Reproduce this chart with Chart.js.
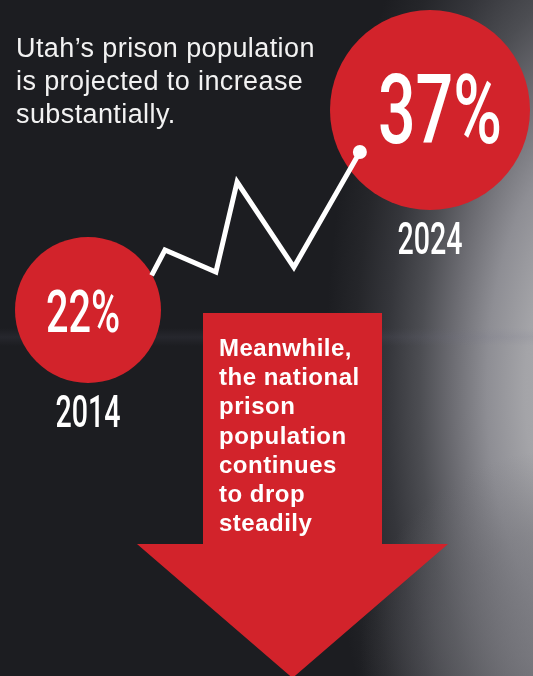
<!DOCTYPE html>
<html>
<head>
<meta charset="utf-8">
<script src="https://cdn.jsdelivr.net/npm/chart.js@4"></script>
<style>
  html, body { margin: 0; padding: 0; background: #1c1d21; }
  #wrap { width: 533px; height: 676px; position: relative; }
</style>
</head>
<body>
<div id="wrap"><canvas id="prisonChart"></canvas></div>
<script>
// Utah projection: start / end points
const years = [2014, 2024];
const utahGrowth = [22, 37];
const bubbleRadius = [73, 100];

// the zigzag trend line between them (year, percent)
const trendYears = [2015.86, 2016.25, 2017.74, 2018.36, 2020.02, 2021.95];
const trendValues = [24.6, 26.5, 24.85, 31.6, 25.2, 33.85];

const headline = ['Utah\u2019s prison population', 'is projected to increase', 'substantially.'];
const nationalNote = ['Meanwhile,', 'the national', 'prison', 'population', 'continues', 'to drop', 'steadily'];

const RED = '#d2232b';

// background: dark charcoal with a grey glow on the right
const backdrop = {
    id: 'backdrop',
    beforeDraw(chart) {
        const c = chart.ctx, w = chart.width, h = chart.height;
        c.save();
        c.fillStyle = '#1c1d21';
        c.fillRect(0, 0, w, h);

        c.save();
        c.translate(595, 390);
        c.scale(1, 2.3);
        let g = c.createRadialGradient(0, 0, 0, 0, 0, 270);
        g.addColorStop(0, '#b4b4b8');
        g.addColorStop(0.26, '#a4a4a8');
        g.addColorStop(0.4, '#8e8e94');
        g.addColorStop(0.53, '#6c6c72');
        g.addColorStop(0.65, '#4c4d52');
        g.addColorStop(0.77, '#35363b');
        g.addColorStop(0.89, '#25262a');
        g.addColorStop(1, '#1c1d21');
        c.fillStyle = g;
        c.fillRect(-595, -390 / 2.3, 600, 676 / 2.3);
        c.restore();

        // softer grey towards the bottom right
        g = c.createRadialGradient(560, 650, 0, 560, 650, 200);
        g.addColorStop(0, 'rgba(122,122,128,0.8)');
        g.addColorStop(0.6, 'rgba(110,110,116,0.4)');
        g.addColorStop(1, 'rgba(110,110,116,0)');
        c.fillStyle = g;
        c.fillRect(300, 440, 233, 236);

        // faint horizontal streak on the left
        const s = c.createLinearGradient(0, 328, 0, 346);
        s.addColorStop(0, 'rgba(110,110,135,0)');
        s.addColorStop(0.5, 'rgba(110,110,135,0.12)');
        s.addColorStop(1, 'rgba(110,110,135,0)');
        c.fillStyle = s;
        c.fillRect(0, 328, 533, 18);
        c.restore();
    }
};

// the red arrow, the texts and the bubble labels
const labels = {
    id: 'labels',
    beforeDatasetsDraw(chart) {
        const c = chart.ctx;
        c.save();
        c.fillStyle = RED;
        c.beginPath();
        c.moveTo(203, 313);
        c.lineTo(382, 313);
        c.lineTo(382, 544);
        c.lineTo(448, 544);
        c.lineTo(292.5, 678);
        c.lineTo(137, 544);
        c.lineTo(203, 544);
        c.closePath();
        c.fill();

        c.fillStyle = '#ffffff';
        c.font = 'bold 24px "Liberation Sans", Arial, sans-serif';
        c.letterSpacing = '0.5px';
        c.textAlign = 'left';
        c.textBaseline = 'alphabetic';
        nationalNote.forEach((t, i) => c.fillText(t, 219, 356 + i * 29.2));

        c.fillStyle = '#f2f2f2';
        c.font = '27px "Liberation Sans", Arial, sans-serif';
        c.letterSpacing = '0.4px';
        headline.forEach((t, i) => c.fillText(t, 16, 57 + i * 33));
        c.restore();
    },
    afterDatasetsDraw(chart) {
        const c = chart.ctx;
        const pts = chart.getDatasetMeta(1).data;
        c.save();
        c.fillStyle = '#ffffff';
        c.textAlign = 'center';
        c.textBaseline = 'alphabetic';
        const narrow = (txt, x, y, size, sx) => {
            c.save();
            c.translate(x, y);
            c.scale(sx, 1);
            c.font = '500 ' + size + 'px Roboto, "Liberation Sans", sans-serif';
            c.fillText(txt, 0, 0);
            c.restore();
        };
        pts.forEach((p, i) => {
            const r = bubbleRadius[i];
            const big = i === 1;
            narrow(utahGrowth[i] + '%', p.x + (big ? 10 : -5), p.y + (big ? 33 : 22), big ? 96 : 60, big ? 0.69 : 0.66);
            narrow(String(years[i]), p.x, p.y + r + 44, 44, 0.65);
        });
        c.restore();
    }
};

new Chart(document.getElementById('prisonChart'), {
    data: {
        datasets: [{
            type: 'line',
            data: trendYears.map((x, i) => ({ x: x, y: trendValues[i] })),
            borderColor: '#ffffff',
            borderWidth: 5,
            borderJoinStyle: 'miter',
            tension: 0,
            pointRadius: trendYears.map((x, i) => i === trendYears.length - 1 ? 7 : 0),
            pointBackgroundColor: '#ffffff',
            pointBorderWidth: 0,
            clip: false,
            order: 0
        }, {
            type: 'bubble',
            data: years.map((x, i) => ({ x: x, y: utahGrowth[i], r: bubbleRadius[i] })),
            backgroundColor: RED,
            borderWidth: 0,
            clip: false,
            order: 1
        }]
    },
    options: {
        responsive: true,
        maintainAspectRatio: false,
        animation: false,
        layout: { padding: 0, autoPadding: false },
        plugins: { legend: { display: false }, tooltip: { enabled: false } },
        scales: {
            x: { type: 'linear', display: false, min: 2011.427, max: 2027.012 },
            y: { type: 'linear', display: false, min: -5.45, max: 45.25 }
        }
    },
    plugins: [backdrop, labels]
});
</script>
</body>
</html>
